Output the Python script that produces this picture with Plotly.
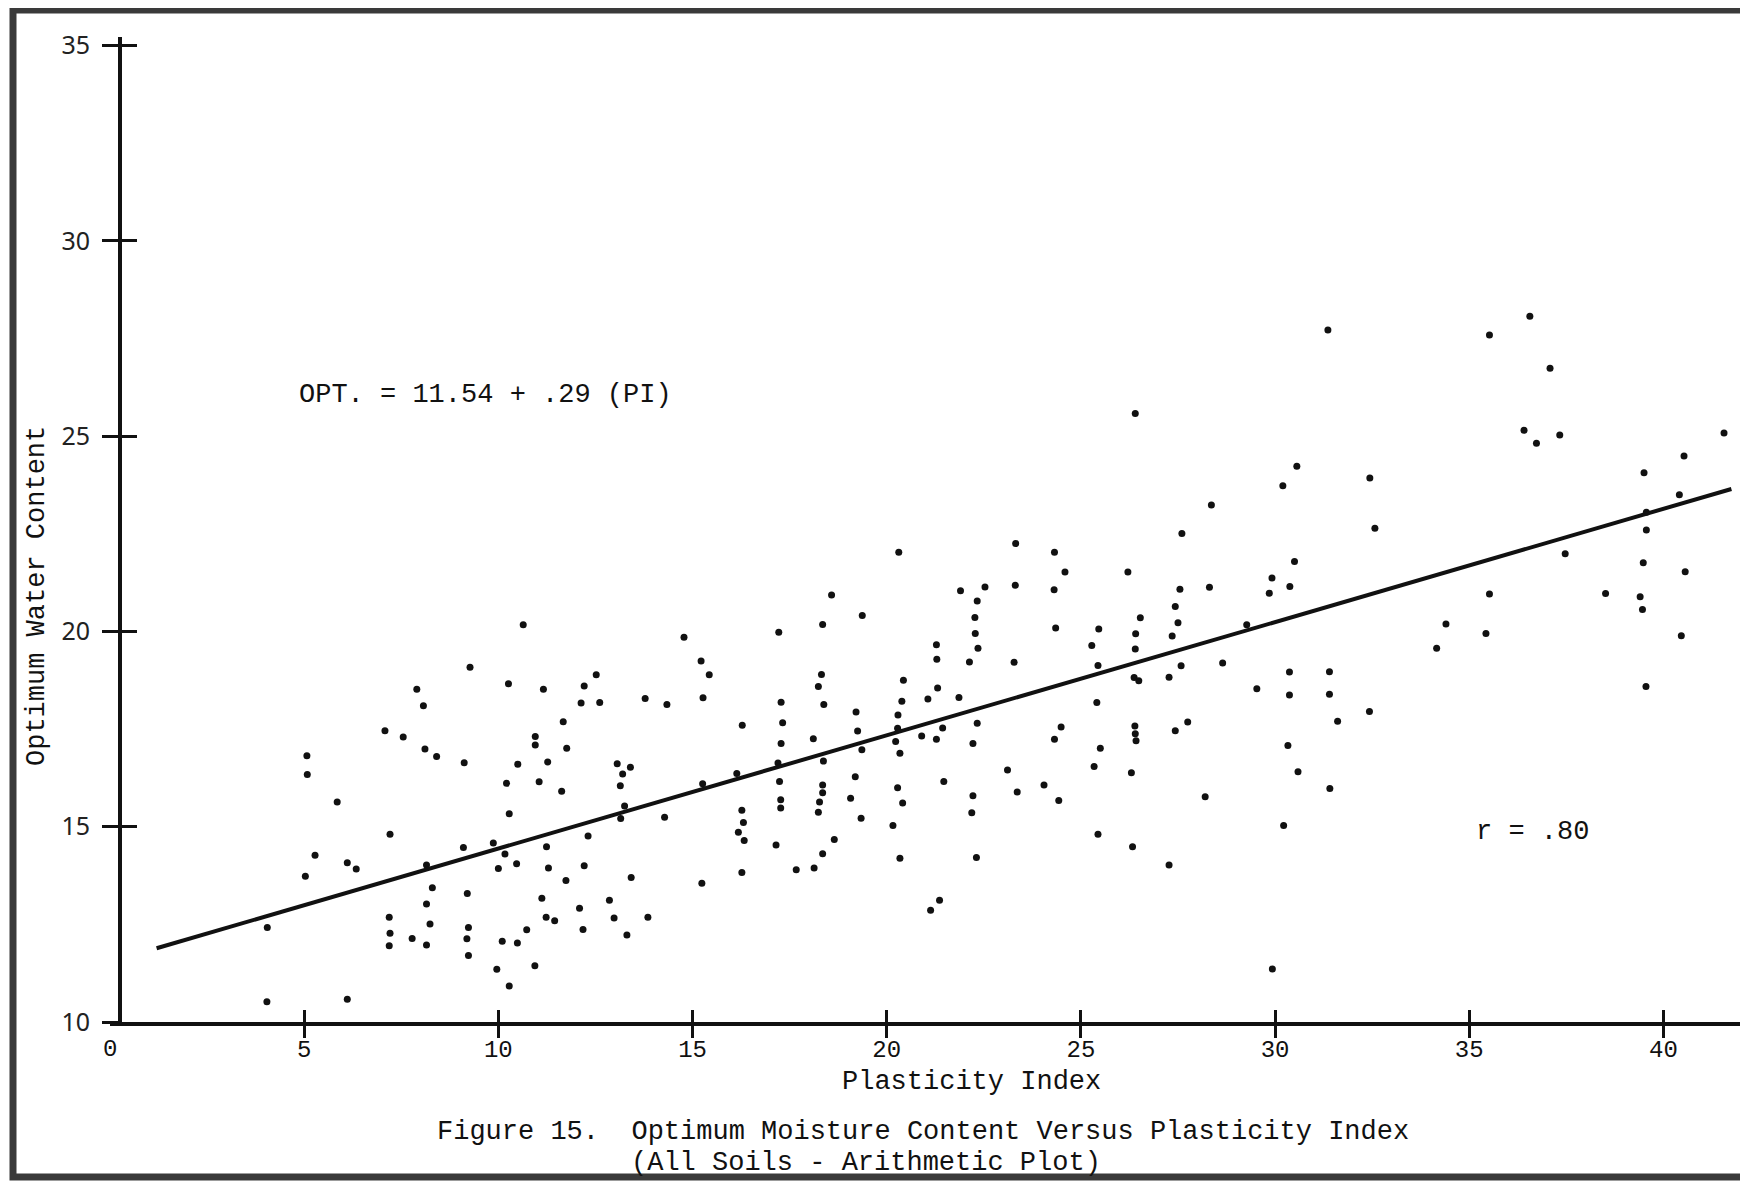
import plotly.graph_objects as go

# ---------------- data ----------------
PI = [
    10.64, 9.27, 7.90, 8.07, 10.26, 11.16, 11.67, 10.95, 10.95, 11.76, 7.08, 7.55, 8.11, 8.41, 9.12,
    5.07, 5.08, 5.85, 10.50, 10.21, 11.05, 11.27, 11.63, 10.28, 7.21, 5.28, 5.03, 6.11, 6.34, 8.15,
    9.10, 9.87, 10.17, 10.00, 10.47, 11.24, 11.29, 11.74, 11.12, 8.30, 8.15, 8.24, 8.15, 7.19, 7.21,
    7.19, 7.78, 9.20, 9.23, 9.19, 9.23, 9.96, 10.28, 10.10, 10.49, 10.73, 11.23, 11.45, 10.94, 4.05,
    4.04, 6.11,
    18.58, 19.37, 18.35, 17.22, 14.78, 15.22, 15.43, 15.27, 12.52, 12.21, 12.13, 12.61, 13.78, 14.34,
    18.32, 18.24, 18.38, 17.28, 17.32, 17.28, 17.20, 17.24, 17.27, 17.27, 17.15, 16.28, 16.14, 16.27,
    16.31, 16.18, 16.33, 16.27, 18.11, 18.37, 18.35, 18.35, 18.27, 18.24, 19.21, 19.25, 19.36, 19.19,
    19.07, 19.34, 18.65, 18.35, 18.13, 17.67, 15.26, 14.28, 15.24, 13.06, 13.20, 13.40, 13.14, 13.25,
    13.15, 12.31, 12.21, 13.42, 12.86, 12.09, 12.98, 13.85, 12.18, 13.31,
    20.31, 23.32, 24.32, 24.59, 24.31, 23.31, 22.53, 21.90, 22.33, 22.27, 22.28, 22.35, 22.13, 23.28,
    24.35, 26.21, 27.60, 27.55, 27.43, 27.50, 27.35, 26.53, 26.41, 26.40, 25.46, 25.28, 25.44, 25.41,
    26.37, 26.49, 27.27, 27.58, 21.28, 21.29, 21.31, 21.06, 21.86, 20.43, 20.39, 20.29, 20.28, 20.23,
    20.34, 20.90, 21.28, 21.44, 22.33, 22.22, 24.49, 24.32, 25.50, 25.34, 26.39, 26.40, 26.42, 26.30,
    27.43, 27.75, 23.11, 23.36, 24.05, 24.43, 21.47, 20.28, 20.41, 20.16, 22.22, 22.19, 20.34, 22.31,
    25.44, 26.33, 27.27, 21.36, 21.13, 26.40,
    31.36, 35.52, 30.56, 30.20, 28.36, 32.44, 32.57, 30.50, 29.92, 30.38, 29.85, 28.31, 29.27, 28.65,
    30.37, 31.40, 29.53, 30.37, 31.40, 31.61, 32.43, 30.33, 30.59, 31.41, 28.20, 35.52, 34.40, 35.43,
    34.16, 30.22, 29.93,
    36.56, 37.08, 36.41, 36.73, 37.33, 41.56, 40.53, 39.50, 40.41, 39.56, 39.56, 37.47, 39.48, 40.56,
    38.51, 39.40, 39.46, 40.46, 39.55,
]

OPT = [
    20.17, 19.08, 18.52, 18.10, 18.66, 18.52, 17.69, 17.31, 17.09, 17.01, 17.46, 17.30, 16.99, 16.80, 16.64,
    16.82, 16.34, 15.63, 16.60, 16.11, 16.15, 16.66, 15.91, 15.33, 14.81, 14.27, 13.73, 14.08, 13.92, 14.02,
    14.47, 14.58, 14.30, 13.93, 14.05, 14.49, 13.94, 13.62, 13.17, 13.44, 13.02, 12.51, 11.97, 12.68, 12.27,
    11.95, 12.14, 13.29, 12.42, 12.13, 11.70, 11.35, 10.92, 12.07, 12.02, 12.36, 12.68, 12.59, 11.44, 12.42,
    10.52, 10.58,
    20.93, 20.41, 20.18, 19.98, 19.85, 19.24, 18.89, 18.30, 18.89, 18.60, 18.17, 18.18, 18.28, 18.13,
    18.90, 18.59, 18.13, 18.19, 17.66, 17.13, 16.63, 16.16, 15.69, 15.48, 14.53, 17.60, 16.36, 15.42,
    15.11, 14.86, 14.65, 13.83, 17.25, 16.68, 16.07, 15.87, 15.63, 15.37, 17.94, 17.45, 16.97, 16.28,
    15.73, 15.22, 14.67, 14.31, 13.94, 13.90, 16.10, 15.24, 13.55, 16.61, 16.35, 16.52, 16.05, 15.53,
    15.21, 14.76, 14.00, 13.70, 13.12, 12.91, 12.66, 12.68, 12.37, 12.23,
    22.03, 22.25, 22.03, 21.52, 21.07, 21.18, 21.14, 21.04, 20.78, 20.36, 19.95, 19.57, 19.22, 19.21,
    20.09, 21.52, 22.51, 21.08, 20.64, 20.22, 19.88, 20.35, 19.94, 19.55, 20.06, 19.64, 19.13, 18.18,
    18.82, 18.74, 18.83, 19.12, 19.66, 19.29, 18.55, 18.27, 18.31, 18.75, 18.21, 17.86, 17.52, 17.18,
    16.88, 17.32, 17.24, 17.53, 17.65, 17.13, 17.55, 17.24, 17.01, 16.54, 17.58, 17.38, 17.20, 16.38,
    17.46, 17.68, 16.45, 15.89, 16.07, 15.67, 16.16, 16.00, 15.61, 15.03, 15.79, 15.36, 14.19, 14.21,
    14.81, 14.49, 14.02, 13.12, 12.86, 25.58,
    27.72, 27.59, 24.23, 23.73, 23.24, 23.93, 22.64, 21.79, 21.37, 21.15, 20.98, 21.13, 20.17, 19.19,
    18.96, 18.97, 18.53, 18.37, 18.39, 17.70, 17.95, 17.08, 16.41, 15.98, 15.77, 20.96, 20.19, 19.95,
    19.57, 15.03, 11.36,
    28.07, 26.74, 25.15, 24.82, 25.03, 25.08, 24.49, 24.06, 23.50, 23.05, 22.60, 21.99, 21.76, 21.53,
    20.97, 20.89, 20.56, 19.89, 18.59,
]

# regression: OPT = 11.54 + .29 (PI)
INTERCEPT = 11.54
SLOPE = 0.29
LINE_PI = [1.2, 41.75]
LINE_OPT = [INTERCEPT + SLOPE * p for p in LINE_PI]

X_TICKS = [5, 10, 15, 20, 25, 30, 35, 40]
Y_TICKS = [10, 15, 20, 25, 30, 35]

# ---------------- layout constants ----------------
X_MAX = 42.1
Y_MIN, Y_MAX = 10, 35.22
Y_AXIS_AT = 0.26          # the hand-drawn y axis sits just right of PI = 0
OFF = 8                   # default page margin of the html body
W, H = 1748 - OFF, 1184 - OFF
ML, MR, MT, MB = 110 - OFF, 3, 37 - OFF, 162
PW = W - ML - MR
PH = H - MT - MB

def px(xpix):
    """window pixel -> paper x"""
    return (xpix - OFF - ML) / PW

def py(ypix):
    """window pixel -> paper y"""
    return (H - MB - (ypix - OFF)) / PH

INK = "#111111"
MONO = "Liberation Mono, DejaVu Sans Mono, monospace"
SANS = "Noto Sans, DejaVu Sans, sans-serif"

fig = go.Figure()

fig.add_trace(go.Scatter(
    x=PI, y=OPT, mode="markers",
    marker=dict(size=7, color=INK, line=dict(width=0)),
    showlegend=False, hoverinfo="x+y",
))

fig.add_trace(go.Scatter(
    x=LINE_PI, y=LINE_OPT, mode="lines",
    line=dict(color=INK, width=4),
    showlegend=False, hoverinfo="skip",
))

# empty trace so the overlaid "inside tick" axes get drawn
fig.add_trace(go.Scatter(x=[None], y=[None], xaxis="x2", yaxis="y2",
                         showlegend=False, hoverinfo="skip"))

ypos = Y_AXIS_AT / X_MAX

common_x = dict(range=[0, X_MAX], tickmode="array", tickvals=X_TICKS,
                showgrid=False, zeroline=False, ticklen=12, tickwidth=3,
                tickcolor=INK)
common_y = dict(range=[Y_MIN, Y_MAX], tickmode="array", tickvals=Y_TICKS,
                showgrid=False, zeroline=False, ticklen=16, tickwidth=3,
                tickcolor=INK)

fig.update_layout(
    width=W, height=H, autosize=False,
    margin=dict(l=ML, r=MR, t=MT, b=MB, pad=0),
    paper_bgcolor="white", plot_bgcolor="white",
    xaxis=dict(**common_x, ticks="outside", showline=True, linecolor=INK,
               linewidth=4, anchor="y", ticklabelstandoff=-10,
               tickfont=dict(family=MONO, size=24, color=INK)),
    xaxis2=dict(**common_x, ticks="inside", showline=False,
                showticklabels=False, overlaying="x", anchor="y"),
    yaxis=dict(**common_y, ticks="outside", showline=True, linecolor=INK,
               linewidth=4, anchor="free", position=ypos,
               ticklabelstandoff=7,
               tickfont=dict(family=SANS, size=25, color="#222222")),
    yaxis2=dict(**common_y, ticks="inside", showline=False,
                showticklabels=False, overlaying="y", anchor="free",
                position=ypos),
)

ann = [
    dict(text="OPT. = 11.54 + .29 (PI)", x=4.82, y=26.06, xref="x", yref="y",
         xanchor="left", yanchor="middle", showarrow=False,
         font=dict(family=MONO, size=27, color=INK)),
    dict(text="r = .80", x=35.13, y=14.87, xref="x", yref="y",
         xanchor="left", yanchor="middle", showarrow=False,
         font=dict(family=MONO, size=27, color=INK)),
    dict(text="0", x=0, y=py(1049), xref="x", yref="paper",
         xanchor="center", yanchor="middle", showarrow=False,
         font=dict(family=MONO, size=24, color=INK)),
    dict(text="Plasticity Index", x=px(971), y=py(1082), xref="paper", yref="paper",
         xanchor="center", yanchor="middle", showarrow=False,
         font=dict(family=MONO, size=27, color=INK)),
    dict(text="Optimum Water Content", x=px(37), y=py(596), xref="paper", yref="paper",
         xanchor="center", yanchor="middle", textangle=-90, showarrow=False,
         font=dict(family=MONO, size=27, color=INK)),
    dict(text="Figure 15.\u00a0 Optimum Moisture Content Versus Plasticity Index",
         x=px(923), y=py(1132), xref="paper", yref="paper",
         xanchor="center", yanchor="middle", showarrow=False,
         font=dict(family=MONO, size=27, color=INK)),
    dict(text="(All Soils - Arithmetic Plot)",
         x=px(866), y=py(1163), xref="paper", yref="paper",
         xanchor="center", yanchor="middle", showarrow=False,
         font=dict(family=MONO, size=27, color=INK)),
]
fig.update_layout(annotations=ann)

# scanned page frame
fig.add_shape(type="rect", xref="paper", yref="paper",
              x0=px(13), x1=px(1744), y0=py(1177), y1=py(10),
              line=dict(color="#3a3a3a", width=7), fillcolor="rgba(0,0,0,0)",
              layer="above")

fig.write_html("out.html")
